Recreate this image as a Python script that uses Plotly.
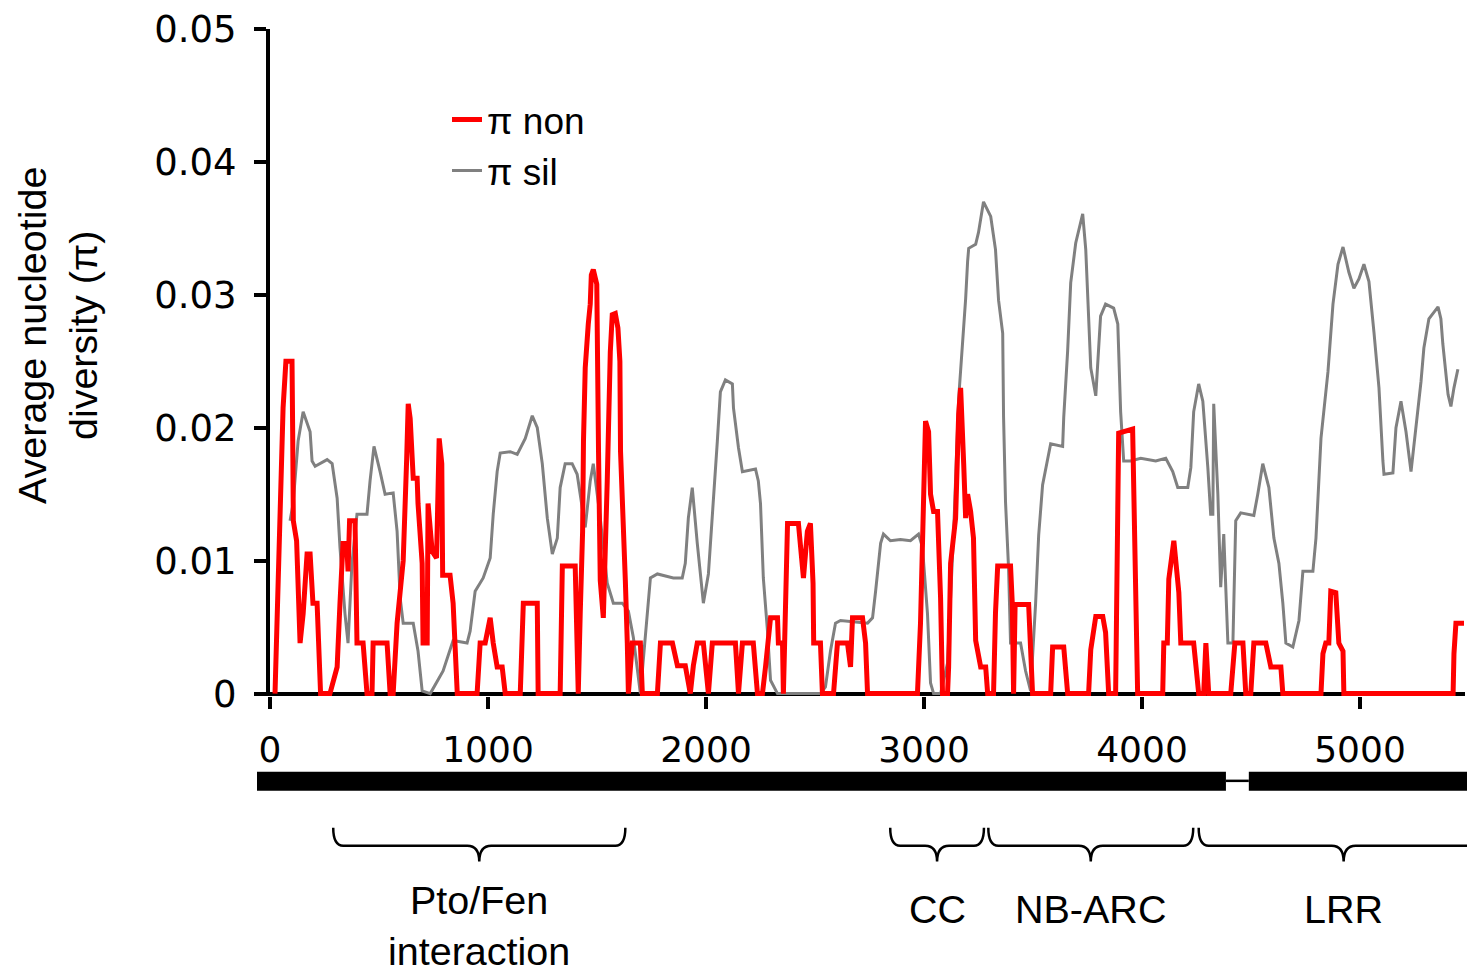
import plotly.graph_objects as go

# ---------------- data ----------------
sil_pos = [92, 106, 129, 152, 184, 193, 207, 262, 285, 308, 321, 344, 358, 376, 399, 445, 459, 477, 505, 528,
           565, 583, 597, 611, 657, 679, 698, 735, 794, 840, 904, 918, 941, 978, 1010, 1024, 1042, 1056, 1102, 1134,
           1171, 1203, 1226, 1249, 1272, 1295, 1318, 1331, 1354, 1386, 1409, 1432, 1446, 1469, 1483, 1515, 1547, 1575, 1616, 1644,
           1667, 1699, 1731, 1745, 1777, 1850, 1891, 1905, 1919, 1937, 1960, 1988, 2011, 2029, 2052, 2066, 2089, 2121, 2126, 2149,
           2167, 2227, 2240, 2250, 2263, 2282, 2296, 2328, 2525, 2548, 2571, 2594, 2617, 2741, 2764, 2778, 2801, 2814, 2846, 2892,
           2938, 2975, 2993, 3016, 3030, 3044, 3076, 3108, 3136, 3159, 3182, 3191, 3200, 3205, 3237, 3250, 3273, 3306, 3328, 3342,
           3361, 3365, 3374, 3388, 3397, 3443, 3466, 3489, 3512, 3526, 3544, 3567, 3581, 3636, 3641, 3659, 3673, 3696, 3728, 3742,
           3755, 3765, 3788, 3810, 3833, 3870, 3889, 3902, 3916, 3948, 3994, 4063, 4109, 4141, 4164, 4210, 4224, 4237, 4260, 4279,
           4302, 4315, 4325, 4329, 4348, 4361, 4375, 4394, 4417, 4430, 4453, 4513, 4531, 4554, 4582, 4605, 4628, 4646, 4660, 4692,
           4720, 4738, 4784, 4798, 4821, 4853, 4876, 4899, 4922, 4949, 4972, 4995, 5018, 5041, 5064, 5087, 5105, 5110, 5151, 5165,
           5188, 5211, 5234, 5257, 5280, 5293, 5316, 5358, 5371, 5380, 5404, 5417, 5431, 5449]
sil_pi = [0.0130, 0.0143, 0.0190, 0.0212, 0.0197, 0.0175, 0.0171, 0.0176, 0.0173, 0.0147, 0.0110, 0.0060, 0.0038, 0.0098, 0.0135, 0.0135, 0.0160, 0.0186, 0.0167, 0.0150,
          0.0151, 0.0122, 0.0072, 0.0053, 0.0053, 0.0032, 0.0002, 0.0, 0.0017, 0.0040, 0.0038, 0.0047, 0.0077, 0.0087, 0.0102, 0.0135, 0.0167, 0.0181, 0.0182, 0.0180,
          0.0192, 0.0209, 0.0200, 0.0173, 0.0132, 0.0105, 0.0117, 0.0155, 0.0173, 0.0173, 0.0165, 0.0140, 0.0125, 0.0160, 0.0173, 0.0132, 0.0083, 0.0068, 0.0068, 0.0062,
          0.0042, 0.0, 0.0060, 0.0087, 0.0090, 0.0087, 0.0087, 0.0098, 0.0132, 0.0155, 0.0113, 0.0068, 0.0090, 0.0132, 0.0190, 0.0227, 0.0236, 0.0233, 0.0215, 0.0185,
          0.0167, 0.0169, 0.0160, 0.0143, 0.0087, 0.0047, 0.0010, 0.0, 0.0, 0.0005, 0.0032, 0.0053, 0.0055, 0.0053, 0.0057, 0.0077, 0.0113, 0.0120, 0.0115, 0.0116,
          0.0115, 0.0120, 0.0110, 0.0060, 0.0008, 0.0, 0.0, 0.0023, 0.0122, 0.0222, 0.0272, 0.0297, 0.0325, 0.0335, 0.0338, 0.0347, 0.0370, 0.0359, 0.0334, 0.0296,
          0.0271, 0.0208, 0.0144, 0.0094, 0.0038, 0.0038, 0.0017, 0.0002, 0.0068, 0.0119, 0.0157, 0.0177, 0.0188, 0.0186, 0.0208, 0.0258, 0.0309, 0.0339, 0.0361, 0.0334,
          0.0284, 0.0245, 0.0224, 0.0284, 0.0293, 0.0290, 0.0278, 0.0212, 0.0175, 0.0175, 0.0177, 0.0175, 0.0177, 0.0167, 0.0155, 0.0155, 0.0170, 0.0212, 0.0233, 0.0220,
          0.0170, 0.0135, 0.0135, 0.0218, 0.0150, 0.0080, 0.0120, 0.0038, 0.0038, 0.0130, 0.0136, 0.0134, 0.0150, 0.0173, 0.0155, 0.0117, 0.0098, 0.0068, 0.0038, 0.0035,
          0.0055, 0.0092, 0.0092, 0.0117, 0.0192, 0.0242, 0.0293, 0.0323, 0.0336, 0.0317, 0.0305, 0.0312, 0.0323, 0.0310, 0.0272, 0.0230, 0.0175, 0.0165, 0.0166, 0.0200,
          0.0220, 0.0197, 0.0167, 0.0200, 0.0235, 0.0260, 0.0282, 0.0291, 0.0282, 0.0263, 0.0225, 0.0216, 0.0230, 0.0244]

non_pos = [23, 37, 46, 55, 60, 73, 101, 104, 107, 122, 126, 129, 138, 152, 170, 184, 197, 216, 229, 232,
           275, 308, 321, 335, 352, 358, 365, 390, 399, 427, 445, 468, 473, 537, 551, 565, 583, 611, 627, 634,
           643, 657, 675, 679, 698, 702, 721, 725, 744, 764, 776, 788, 792, 826, 840, 859, 950, 964, 987, 1010,
           1024, 1042, 1065, 1079, 1148, 1162, 1226, 1230, 1331, 1341, 1400, 1414, 1423, 1434, 1438, 1446, 1460, 1469, 1474, 1483,
           1499, 1504, 1507, 1515, 1529, 1547, 1552, 1561, 1570, 1584, 1596, 1605, 1608, 1616, 1630, 1639, 1644, 1662, 1699, 1708,
           1777, 1791, 1846, 1869, 1905, 1928, 1942, 1960, 1988, 2011, 2029, 2135, 2149, 2167, 2217, 2236, 2259, 2273, 2296, 2328,
           2332, 2351, 2355, 2374, 2424, 2447, 2465, 2479, 2491, 2494, 2525, 2534, 2585, 2603, 2649, 2663, 2672, 2718, 2732, 2741,
           2970, 2984, 2998, 3007, 3021, 3030, 3044, 3062, 3076, 3085, 3108, 3113, 3122, 3145, 3159, 3168, 3182, 3191, 3200, 3214,
           3227, 3237, 3260, 3283, 3292, 3319, 3328, 3338, 3397, 3405, 3411, 3418, 3480, 3489, 3498, 3581, 3590, 3641, 3659, 3755,
           3765, 3788, 3820, 3833, 3842, 3847, 3879, 3887, 3893, 3957, 3962, 3971, 3980, 4095, 4100, 4116, 4123, 4146, 4169, 4178,
           4237, 4260, 4283, 4293, 4306, 4407, 4426, 4463, 4476, 4499, 4513, 4568, 4591, 4637, 4646, 4821, 4830, 4843, 4857, 4866,
           4889, 4903, 4922, 4926, 5427, 5431, 5440, 5477]
non_pi = [0.0, 0.0072, 0.0122, 0.0165, 0.0215, 0.0250, 0.0250, 0.0197, 0.0130, 0.0115, 0.0092, 0.0057, 0.0038, 0.0060, 0.0105, 0.0105, 0.0068, 0.0068, 0.0017, 0.0,
          0.0, 0.0020, 0.0068, 0.0113, 0.0113, 0.0092, 0.0130, 0.0130, 0.0038, 0.0038, 0.0, 0.0, 0.0038, 0.0038, 0.0, 0.0, 0.0053, 0.0100, 0.0177, 0.0218,
          0.0207, 0.0162, 0.0162, 0.0143, 0.0098, 0.0038, 0.0038, 0.0143, 0.0107, 0.0102, 0.0192, 0.0173, 0.0089, 0.0089, 0.0068, 0.0, 0.0, 0.0038, 0.0038, 0.0057,
          0.0038, 0.0020, 0.0020, 0.0, 0.0, 0.0068, 0.0068, 0.0, 0.0, 0.0096, 0.0096, 0.0, 0.0060, 0.0122, 0.0190, 0.0245, 0.0278, 0.0293, 0.0315, 0.0319,
          0.0308, 0.0257, 0.0182, 0.0085, 0.0057, 0.0160, 0.0197, 0.0257, 0.0285, 0.0286, 0.0275, 0.0250, 0.0182, 0.0135, 0.0085, 0.0038, 0.0, 0.0038, 0.0038, 0.0,
          0.0, 0.0038, 0.0038, 0.0021, 0.0021, 0.0, 0.0021, 0.0038, 0.0038, 0.0, 0.0038, 0.0038, 0.0, 0.0038, 0.0038, 0.0, 0.0, 0.0020, 0.0057, 0.0057,
          0.0038, 0.0038, 0.0, 0.0128, 0.0128, 0.0087, 0.0122, 0.0128, 0.0083, 0.0038, 0.0038, 0.0, 0.0, 0.0038, 0.0038, 0.0020, 0.0057, 0.0057, 0.0038, 0.0,
          0.0, 0.0053, 0.0130, 0.0205, 0.0197, 0.0150, 0.0137, 0.0137, 0.0072, 0.0, 0.0, 0.0020, 0.0098, 0.0132, 0.0210, 0.0230, 0.0173, 0.0132, 0.0150, 0.0137,
          0.0117, 0.0040, 0.0020, 0.0020, 0.0, 0.0, 0.0061, 0.0096, 0.0096, 0.0068, 0.0, 0.0067, 0.0067, 0.0030, 0.0, 0.0, 0.0035, 0.0035, 0.0, 0.0,
          0.0033, 0.0058, 0.0058, 0.0046, 0.0010, 0.0, 0.0, 0.0144, 0.0196, 0.0199, 0.0144, 0.0038, 0.0, 0.0, 0.0038, 0.0038, 0.0086, 0.0115, 0.0076, 0.0038,
          0.0038, 0.0, 0.0, 0.0038, 0.0, 0.0, 0.0038, 0.0038, 0.0, 0.0, 0.0038, 0.0038, 0.0020, 0.0020, 0.0, 0.0, 0.0030, 0.0038, 0.0038, 0.0077,
          0.0076, 0.0038, 0.0032, 0.0, 0.0, 0.0030, 0.0053, 0.0053]

x_ticks = [0, 1000, 2000, 3000, 4000, 5000]
y_ticks = [0, 0.01, 0.02, 0.03, 0.04, 0.05]
y_tick_labels = ["0", "0.01", "0.02", "0.03", "0.04", "0.05"]

# gene model (bp) and protein domains (bp)
exon_starts = [-60, 4490]
exon_ends = [4385, 5600]
domain_labels = ["Pto/Fen<br>interaction", "CC", "NB-ARC", "LRR"]
domain_starts = [290, 2845, 3295, 4260]
domain_ends = [1630, 3275, 4235, 5590]

# ---------------- layout geometry ----------------
PAGE_OFF = 8            # default body margin of the html page
VSCALE = 0.9816         # observed vertical scale of the rendered page
PAGE_W = 1475
W = PAGE_W - PAGE_OFF
H = int(round(976 / VSCALE)) - PAGE_OFF


def to_fig_y(p):        # wanted screen row -> figure row
    return p / VSCALE - PAGE_OFF


ML = 257 - PAGE_OFF
MT = to_fig_y(27)
MR, MB = 0, 0
PW, PH = W - ML - MR, H - MT - MB
BP_PER_PX = 1000 / 218.0
X0_PX = 270             # screen column of bp 0
X_MAX = 5480
Y_MIN, Y_MAX = -0.0002, 0.05
ZERO_PX = 693.5         # screen row of pi = 0
PX_PER_Y = (ZERO_PX - 27) / 0.05


def py(p):  # screen row -> paper y
    return (H - MB - to_fig_y(p)) / PH


def px(p):  # screen column -> paper x
    return (p - PAGE_OFF - ML) / PW


x_dom = [px(X0_PX), px(X0_PX + X_MAX / BP_PER_PX)]
y_dom = [py(ZERO_PX - Y_MIN * PX_PER_Y), 1.0]
x2_range = [-(X0_PX - 257) * BP_PER_PX, (PAGE_OFF + W - X0_PX) * BP_PER_PX]

X_TICK_FONT = dict(family="DejaVu Sans", size=36, color="black")
Y_TICK_FONT = dict(family="DejaVu Sans", size=37, color="black")
TEXT_FONT = dict(family="Liberation Sans", size=39.5, color="black")
LEG_FONT = dict(family="Liberation Sans", size=37, color="black")

fig = go.Figure()
fig.add_trace(go.Scatter(x=sil_pos, y=sil_pi, mode="lines", name="π sil",
                         line=dict(color="rgb(128,128,128)", width=3), legendrank=2))
fig.add_trace(go.Scatter(x=non_pos, y=non_pi, mode="lines", name="π non",
                         line=dict(color="#ff0000", width=5), legendrank=1))
# hidden axis pair with the same bp scale, used for the gene model below the plot
fig.add_trace(go.Scatter(x=[exon_starts[0], exon_ends[-1]], y=[0, 0], xaxis="x2", yaxis="y2",
                         mode="lines", line=dict(width=0), hoverinfo="skip", showlegend=False))

shapes = []
for s, e in zip(exon_starts, exon_ends):
    shapes.append(dict(type="rect", xref="x2", yref="paper", x0=s, x1=e, y0=py(791), y1=py(772),
                       fillcolor="black", line=dict(width=0)))
for i in range(len(exon_starts) - 1):
    shapes.append(dict(type="line", xref="x2", yref="paper", x0=exon_ends[i], x1=exon_starts[i + 1],
                       y0=py(781), y1=py(781), line=dict(color="black", width=2.5)))

yt, yl, ytip = py(828), py(846), py(862)
r_end = 10 * BP_PER_PX
r_mid = 12 * BP_PER_PX
annotations = []
for lab, a, b in zip(domain_labels, domain_starts, domain_ends):
    m = (a + b) / 2
    path = (f"M {a},{yt} Q {a},{yl} {a + r_end},{yl} L {m - r_mid},{yl} Q {m},{yl} {m},{ytip} "
            f"Q {m},{yl} {m + r_mid},{yl} L {b - r_end},{yl} Q {b},{yl} {b},{yt}")
    shapes.append(dict(type="path", xref="x2", yref="paper", path=path,
                       line=dict(color="black", width=2.5)))
    two = "<br>" in lab
    annotations.append(dict(text=lab, xref="x2", yref="paper", x=m, y=py(926 if two else 910),
                            xanchor="center", yanchor="middle", showarrow=False, font=TEXT_FONT))

annotations.append(dict(text="Average nucleotide<br>diversity (π)", xref="paper", yref="paper",
                        x=px(57), y=py(335), xanchor="center", yanchor="middle", textangle=-90,
                        showarrow=False, font=TEXT_FONT))

fig.update_layout(
    width=W, height=H,
    margin=dict(l=ML, r=MR, t=MT, b=MB, pad=0),
    paper_bgcolor="white", plot_bgcolor="white",
    showlegend=True,
    legend=dict(x=px(447), y=py(87), xanchor="left", yanchor="top", bgcolor="rgba(0,0,0,0)",
                font=LEG_FONT, tracegroupgap=0),
    xaxis=dict(domain=x_dom, range=[0, X_MAX], anchor="y",
               showline=False, ticks="outside", ticklen=12, tickwidth=4, tickcolor="black",
               tickvals=x_ticks, tickfont=X_TICK_FONT, ticklabelstandoff=10,
               ticklabeloverflow="allow", showgrid=False, zeroline=False),
    yaxis=dict(domain=y_dom, range=[Y_MIN, Y_MAX], anchor="x",
               showline=True, linecolor="black", linewidth=4,
               ticks="outside", ticklen=12, tickwidth=4, tickcolor="black",
               tickvals=y_ticks, ticktext=y_tick_labels, tickfont=Y_TICK_FONT, ticklabelstandoff=10,
               ticklabeloverflow="allow",
               showgrid=False, zeroline=True, zerolinecolor="black", zerolinewidth=4),
    xaxis2=dict(domain=[0, 1], range=x2_range, anchor="y2", visible=False,
                showgrid=False, zeroline=False),
    yaxis2=dict(domain=[0, 0.25], range=[-1, 1], anchor="x2", visible=False,
                showgrid=False, zeroline=False),
    shapes=shapes,
    annotations=annotations,
)

fig.write_html("out.html")
